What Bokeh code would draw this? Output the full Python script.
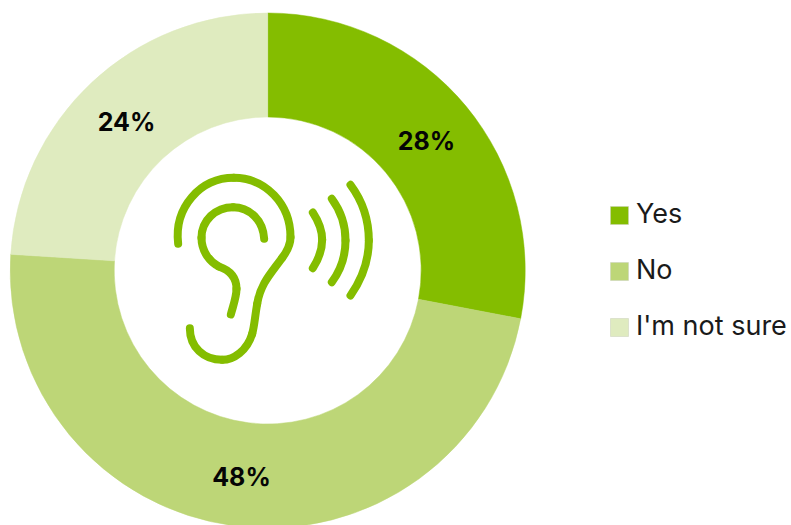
from math import pi
from bokeh.plotting import figure
from bokeh.models import Range1d
from bokeh.core.properties import value
from bokeh.embed import file_html
from bokeh.resources import INLINE

W, H = 791, 525
categories = ["Yes", "No", "I'm not sure"]
percent = [28, 48, 24]
colors = ["#84BD00", "#BDD677", "#DFEBBF"]
label_pos = [(426, 140), (241, 476), (126, 121)]

CX, CY = 267.2, 525 - 270
R_OUT, R_IN = 257.5, 153.5

p = figure(width=W, height=H, x_range=Range1d(0, W), y_range=Range1d(0, H),
           output_backend="svg", toolbar_location=None, min_border=0)
p.axis.visible = False
p.grid.visible = False
p.outline_line_color = None
p.background_fill_color = "white"

# Donut slices run clockwise from twelve o'clock.
cum = 0
for v, c in zip(percent, colors):
    start = pi / 2 - 2 * pi * (cum + v) / 100
    end = pi / 2 - 2 * pi * cum / 100
    p.annular_wedge(x=[CX], y=[CY], inner_radius=R_IN, outer_radius=R_OUT,
                    start_angle=start, end_angle=end, fill_color=c, line_color=c,
                    line_width=0.5)
    cum += v

for v, (lx, ly) in zip(percent, label_pos):
    p.text(x=[lx], y=[H - ly], text=[f"{v}%"], text_align="center", text_baseline="middle",
           text_font=value("Inter"), text_font_style="bold", text_font_size="25px",
           text_color="#050505")

# Legend entries
for i, (name, c) in enumerate(zip(categories, colors)):
    yc = H - (215 + 56 * i)
    p.rect(x=[619], y=[yc], width=18, height=18, fill_color=c, line_color="#C9CFB8", line_width=0.5)
    p.text(x=[635.5], y=[yc + 2], text=[name], text_align="left", text_baseline="middle",
           text_font=value("Inter"), text_font_size="27px", text_color="#1A1A1A")

# Ear icon: cubic segments on a small local grid (3 units per pixel).
ear_outer = [
    ((83, 250), (70, 140), (150, 52), (250, 52)),
    ((250, 52), (345, 52), (420, 130), (420, 230)),
    ((420, 230), (420, 255), (410, 272), (395, 292)),
    ((395, 292), (360, 340), (330, 370), (320, 430)),
    ((320, 430), (313, 470), (312, 495), (305, 520)),
    ((305, 520), (290, 570), (250, 598), (215, 598)),
    ((215, 598), (160, 598), (118, 560), (118, 503)),
]
ear_inner = [
    ((341, 235), (338, 180), (298, 140), (248, 140)),
    ((248, 140), (195, 140), (153, 180), (153, 232)),
    ((153, 232), (153, 275), (180, 305), (205, 318)),
    ((205, 318), (240, 330), (258, 350), (258, 385)),
    ((258, 385), (258, 410), (248, 435), (241, 462)),
]
waves = [
    ((487, 156), (506, 185), (515, 210), (515, 238)),
    ((515, 238), (515, 270), (505, 295), (487, 323)),
    ((544, 115), (570, 150), (585, 195), (585, 240)),
    ((585, 240), (585, 285), (570, 330), (544, 365)),
    ((600, 73), (635, 120), (655, 180), (655, 240)),
    ((655, 240), (655, 300), (635, 355), (600, 405)),
]


def gx(a):
    return 150 + a / 3


def gy(b):
    return H - (160 + b / 3)


for seg in ear_outer + ear_inner + waves:
    (a0, b0), (a1, b1), (a2, b2), (a3, b3) = seg
    xs = [gx(a0), gx(a3)]
    ys = [gy(b0), gy(b3)]
    p.bezier(x0=[xs[0]], y0=[ys[0]], x1=[xs[1]], y1=[ys[1]],
             cx0=[gx(a1)], cy0=[gy(b1)], cx1=[gx(a2)], cy1=[gy(b2)],
             line_color="#84BD00", line_width=8, line_cap="round", line_join="round")

open("out.html", "w").write(file_html(p, INLINE))
